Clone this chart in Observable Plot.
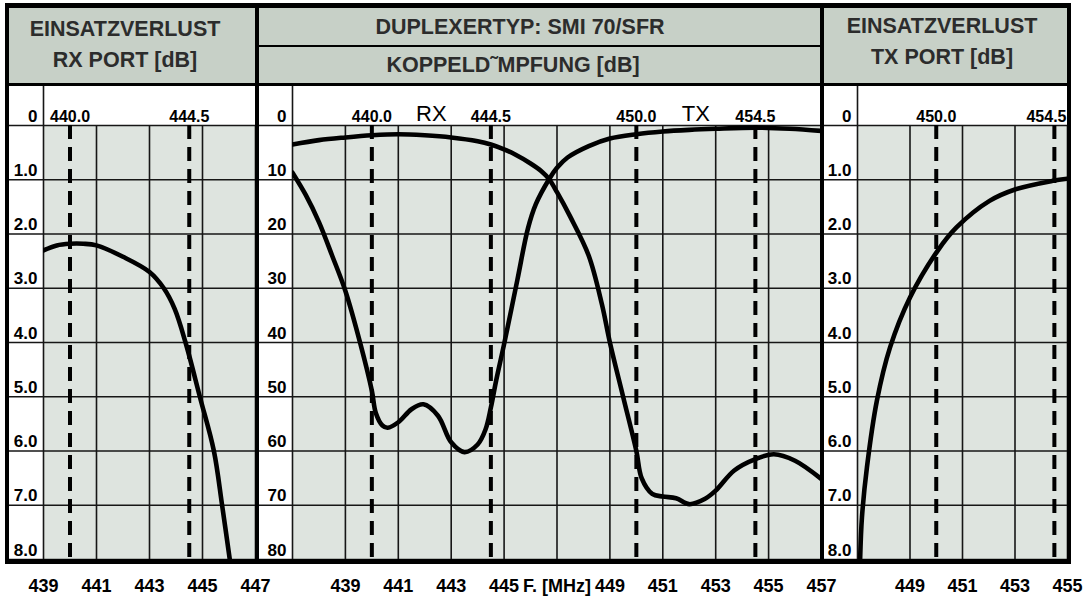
<!DOCTYPE html>
<html>
<head>
<meta charset="utf-8">
<script src="https://cdn.jsdelivr.net/npm/d3@7"></script>
<script src="https://cdn.jsdelivr.net/npm/@observablehq/plot@0.6"></script>
<style>
  html, body { margin: 0; padding: 0; background: #fff; }
  #chart { position: relative; width: 1088px; height: 598px; overflow: hidden; background: #fff;
           font-family: "Liberation Sans", Arial, Helvetica, sans-serif; }
  .hdr { position: absolute; background: #c7d0c7; }
  .ht { position: absolute; width: 600px; text-align: center; font-weight: bold; font-size: 21.5px;
        line-height: 21.5px; color: #2c2c2c; white-space: nowrap; }
  .bar { position: absolute; background: #000; }
  #chart svg g[aria-label="band-values"] text { letter-spacing: 0.6px; }
  #chart svg g[aria-label="band-names"] text { letter-spacing: 1px; }
</style>
</head>
<body>
<div id="chart">
  <div class="hdr" style="left:5px;top:3px;width:252px;height:81px"></div>
  <div class="hdr" style="left:257px;top:3px;width:565px;height:81px"></div>
  <div class="hdr" style="left:822px;top:3px;width:249px;height:81px"></div>
  <div class="ht" style="left:-175px;top:19px">EINSATZVERLUST</div>
  <div class="ht" style="left:-175px;top:50px">RX PORT [dB]</div>
  <div class="ht" style="left:220px;top:17px">DUPLEXERTYP: SMI 70/SFR</div>
  <div class="ht" style="left:213px;top:55px">KOPPELD˜MPFUNG [dB]</div>
  <div class="ht" style="left:642px;top:16px">EINSATZVERLUST</div>
  <div class="ht" style="left:642px;top:47px">TX PORT [dB]</div>
</div>
<script>
// ---------------- data ----------------
// Left panel: insertion loss, RX port (dB) vs frequency (MHz)
const rxPortFreq = [439.0, 439.5, 440.0, 440.5, 441.0, 442.0, 443.0, 443.54, 443.95, 444.36, 444.9, 445.43, 445.74, 446.03];
const rxPortLoss = [2.30, 2.21, 2.18, 2.18, 2.21, 2.42, 2.70, 3.0, 3.38, 4.0, 5.0, 6.0, 7.0, 8.0];

// Middle panel: coupling attenuation (dB), RX branch (passes RX band, rejects TX band)
const rxBranchFreq = [437.0, 438.0, 439.0, 440.0, 441.0, 442.0, 443.0, 444.0, 444.5, 445.0, 445.4, 446.0, 446.4, 446.7, 447.0, 447.5, 448.2, 448.7, 449.0, 449.5, 450.0, 450.2, 450.6, 451.0, 451.5, 452.0, 452.6, 453.0, 453.7, 454.5, 455.2, 456.0, 457.0];
const rxBranchDb   = [3.5, 2.7, 2.2, 1.8, 1.6, 1.8, 2.2, 2.9, 3.5, 4.4, 5.3, 7.0, 8.4, 9.9, 12.3, 16.8, 24.0, 33.0, 40.0, 50.0, 60.0, 65.0, 67.9, 68.4, 68.7, 69.8, 68.8, 67.3, 63.6, 61.5, 60.6, 61.8, 65.2];

// Middle panel: coupling attenuation (dB), TX branch (rejects RX band, passes TX band)
const txBranchFreq = [437.0, 437.5, 438.0, 438.5, 439.0, 439.57, 440.0, 440.15, 440.4, 440.6, 441.0, 441.5, 441.95, 442.5, 443.0, 443.5, 444.0, 444.3, 444.5, 444.7, 445.0, 445.5, 445.9, 446.2, 446.7, 447.0, 447.4, 448.2, 449.0, 450.0, 451.0, 452.0, 453.0, 454.5, 455.8, 457.0];
const txBranchDb   = [8.7, 12.8, 17.8, 24.0, 30.5, 40.3, 48.9, 53.0, 55.3, 55.7, 54.7, 52.3, 51.4, 53.5, 58.4, 60.2, 58.8, 56.0, 52.0, 47.0, 40.3, 28.5, 19.0, 14.5, 9.9, 7.8, 5.9, 3.8, 2.4, 1.6, 1.1, 0.8, 0.6, 0.4, 0.6, 1.0];

// Right panel: insertion loss, TX port (dB)
const txPortFreq = [447.1, 447.17, 447.36, 447.74, 448.24, 449.0, 450.05, 450.77, 452.03, 453.0, 454.43, 455.0];
const txPortLoss = [8.0, 7.22, 6.3, 5.07, 4.09, 3.17, 2.31, 1.88, 1.39, 1.18, 1.02, 0.98];

// Band edges (dashed markers) and their labels
const rxBand = [440.0, 444.5];
const rxBandLabels = ["440.0", "444.5"];
const txBand = [450.0, 454.5];
const txBandLabels = ["450.0", "454.5"];
const bandNames = ["RX", "TX"];

// Tick values and labels
const lossTicks = [0, 1, 2, 3, 4, 5, 6, 7, 8];
const lossTickLabels = ["0", "1.0", "2.0", "3.0", "4.0", "5.0", "6.0", "7.0", "8.0"];
const isoTicks = [0, 10, 20, 30, 40, 50, 60, 70, 80];
const isoTickLabels = ["0", "10", "20", "30", "40", "50", "60", "70", "80"];
const rxFreqTicks = [439, 441, 443, 445, 447];
const rxFreqLabels = ["439", "441", "443", "445", "447"];
const midFreqTicks = [439, 441, 443, 445, 447, 449, 451, 453, 455, 457];
const midFreqLabels = ["439", "441", "443", "445", "F. [MHz]", "449", "451", "453", "455", "457"];
const txFreqTicks = [449, 451, 453, 455];
const txFreqLabels = ["449", "451", "453", "455"];

// ---------------- drawing ----------------
const GRID_BG = "#dee4df";
const INK = "#161616";
const chart = document.getElementById("chart");

function panel(cfg) {
  const {left, width, ml, xDomain, yDomain, yTicks, yLabels, xTicks, xLabels, bands, curves, extra} = cfg;
  const gridX = d3.range(xDomain[0], xDomain[1] + 0.001, 2);
  const yFmt = new Map(yTicks.map((d, i) => [d, yLabels[i]]));
  const xFmt = new Map(xTicks.map((d, i) => [d, xLabels[i]]));
  const marks = [
    Plot.frame({fill: GRID_BG}),
    Plot.ruleX(gridX.slice(1), {stroke: INK, strokeWidth: 1.6}),
    Plot.ruleX([xDomain[0]], {stroke: INK, strokeWidth: 1.6, insetTop: -41}),
    Plot.ruleY(yTicks, {stroke: INK, strokeWidth: 1.6, insetLeft: -ml}),
    Plot.ruleX(bands, {stroke: "#000", strokeWidth: 4, strokeDasharray: "14,8"}),
    ...curves.map(([fx, fy]) => Plot.line(fy, {x: fx, y: fy, curve: "catmull-rom", stroke: "#000", strokeWidth: 4.6, clip: true})),
    Plot.axisY(yTicks, {anchor: "left", tickSize: 0, tickPadding: 6, tickFormat: d => yFmt.get(d),
      fontSize: 17, fontWeight: "bold", lineAnchor: "bottom", dy: -4, fill: "#000"}),
    Plot.axisX(xTicks, {anchor: "bottom", tickSize: 0, tickPadding: 20, tickFormat: d => xFmt.get(d),
      fontSize: 18, fontWeight: "bold", fill: "#000"}),
    ...extra
  ];
  const svg = Plot.plot({
    width, height: 514, marginTop: 41, marginBottom: 39, marginLeft: ml, marginRight: 0,
    x: {domain: xDomain, axis: null},
    y: {domain: yDomain, reverse: true, axis: null},
    style: {background: "transparent", overflow: "visible", maxWidth: "none",
            fontFamily: "'Liberation Sans', Arial, Helvetica, sans-serif"},
    marks
  });
  svg.style.position = "absolute";
  svg.style.left = left + "px";
  svg.style.top = "84px";
  chart.appendChild(svg);
}

const bandText = (vals, labels, opts = {}) => Plot.text(vals, {x: d => d, text: (d, i) => labels[i],
  frameAnchor: "top", lineAnchor: "bottom", dy: -4, fontSize: 16, fontWeight: "bold", fill: "#000",
  ariaLabel: "band-values", ...opts});

// Left panel
panel({
  left: 7, width: 248, ml: 36, xDomain: [439, 447], yDomain: [0, 8],
  yTicks: lossTicks, yLabels: lossTickLabels, xTicks: rxFreqTicks, xLabels: rxFreqLabels,
  bands: rxBand, curves: [[rxPortFreq, rxPortLoss]],
  extra: [bandText(rxBand, rxBandLabels)]
});

// Middle panel
panel({
  left: 257, width: 564, ml: 35, xDomain: [437, 457], yDomain: [0, 80],
  yTicks: isoTicks, yLabels: isoTickLabels, xTicks: midFreqTicks, xLabels: midFreqLabels,
  bands: [...rxBand, ...txBand], curves: [[rxBranchFreq, rxBranchDb], [txBranchFreq, txBranchDb]],
  extra: [
    bandText([...rxBand, ...txBand], [...rxBandLabels, ...txBandLabels]),
    Plot.text(bandNames, {x: [d3.mean(rxBand), d3.mean(txBand)], text: d => d, frameAnchor: "top",
      lineAnchor: "bottom", dy: -5, fontSize: 22, fontWeight: "normal", fill: "#000", ariaLabel: "band-names"})
  ]
});

// Right panel
panel({
  left: 823, width: 244, ml: 34, xDomain: [447, 455], yDomain: [0, 8],
  yTicks: lossTicks, yLabels: lossTickLabels, xTicks: txFreqTicks, xLabels: txFreqLabels,
  bands: txBand, curves: [[txPortFreq, txPortLoss]],
  extra: [
    bandText(txBand.slice(0, 1), txBandLabels.slice(0, 1)),
    Plot.text(txBandLabels.slice(1), {frameAnchor: "top-right", textAnchor: "end", lineAnchor: "bottom",
      dy: -4, dx: -1, fontSize: 16, fontWeight: "bold", fill: "#000", ariaLabel: "band-values"})
  ]
});

// Thick frame and panel dividers (drawn on top)
[
  [5, 3, 1066, 4.5],      // top
  [5, 558.5, 1066, 5],    // bottom
  [5, 3, 4, 560.5],       // left
  [1067, 3, 4, 560.5],    // right
  [255, 3, 4, 560.5],     // divider left/middle
  [820, 3, 4, 560.5],     // divider middle/right
  [5, 82.5, 1066, 3.5],   // header bottom
  [257, 45, 565, 2]       // middle header divider
].forEach(([l, t, w, h]) => {
  const d = document.createElement("div");
  d.className = "bar";
  d.style.cssText = `left:${l}px;top:${t}px;width:${w}px;height:${h}px`;
  chart.appendChild(d);
});
</script>
</body>
</html>
